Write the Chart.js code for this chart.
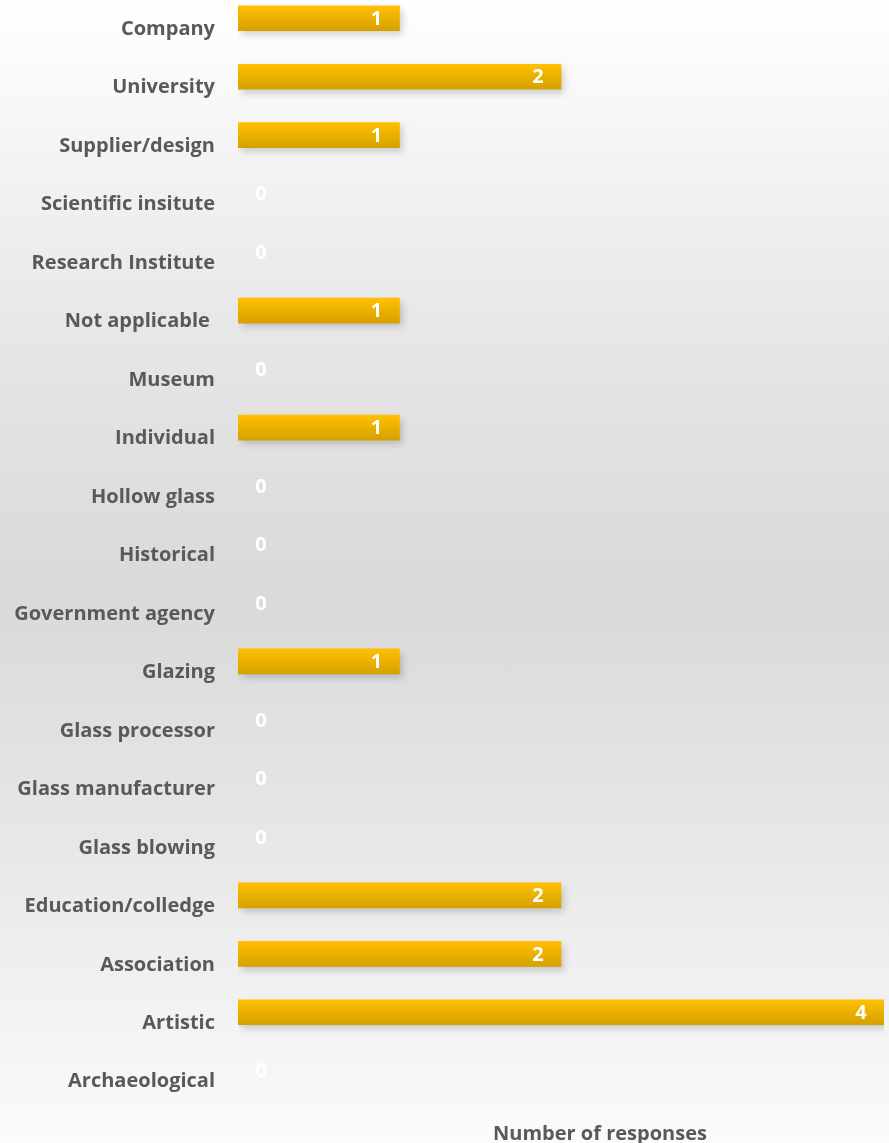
<!DOCTYPE html>
<html>
<head>
<meta charset="utf-8">
<script src="https://cdn.jsdelivr.net/npm/chart.js@4"></script>
<style>
  html, body {
    margin: 0;
    padding: 0;
    width: 889px;
    height: 1143px;
    overflow: hidden;
  }
  body {
    position: relative;
    background: linear-gradient(to bottom, #ffffff 0%, #e6e6e6 30%, #d9d9d9 52%, #e8e8e8 75%, #fbfbfb 100%);
  }
  #wrap {
    position: absolute;
    left: 0;
    top: -11px;
    width: 889px;
    height: 1154px;
  }
</style>
</head>
<body>
<div id="wrap">
  <canvas id="responsesChart" width="889" height="1154"></canvas>
</div>
<script>
// Categories (top to bottom) and number of responses
const categories = [
  "Company", "University", "Supplier/design", "Scientific insitute", "Research Institute",
  "Not applicable ", "Museum", "Individual", "Hollow glass", "Historical",
  "Government agency", "Glazing", "Glass processor", "Glass manufacturer", "Glass blowing",
  "Education/colledge", "Association", "Artistic", "Archaeological"
];
const responses = [1, 2, 1, 0, 0, 1, 0, 1, 0, 0, 0, 1, 0, 0, 0, 2, 2, 4, 0];
const axisMin = 0;
const axisMax = 4;
const axisTitle = "Number of responses";

const FONT = "'Open Sans', sans-serif";
const GREY = '#595959';

// Vertical gold gradient for each bar (nothing drawn for zero bars)
function barGradient(context) {
  const chart = context.chart;
  const yScale = chart.scales.y;
  if (context.raw === 0) return 'rgba(0,0,0,0)';
  if (!yScale || context.dataIndex === undefined) return '#FFC000';
  const yc = yScale.getPixelForValue(context.dataIndex);
  if (!Number.isFinite(yc)) return '#FFC000';
  const g = chart.ctx.createLinearGradient(0, yc - 12.5, 0, yc + 12.5);
  g.addColorStop(0, '#FFC000');
  g.addColorStop(1, '#D6A100');
  return g;
}

// Shadow under the bars + white value labels
const barDecor = {
  id: 'barDecor',
  beforeDatasetsDraw(chart) {
    const ctx = chart.ctx;
    ctx.save();
    ctx.shadowColor = 'rgba(0,0,0,0.18)';
    ctx.shadowBlur = 7;
    ctx.shadowOffsetX = 3;
    ctx.shadowOffsetY = 4;
  },
  afterDatasetsDraw(chart) {
    const ctx = chart.ctx;
    ctx.restore();
    ctx.save();
    ctx.fillStyle = '#ffffff';
    ctx.font = "bold 20px " + FONT;
    ctx.textAlign = 'center';
    ctx.textBaseline = 'middle';
    const meta = chart.getDatasetMeta(0);
    meta.data.forEach((bar, i) => {
      const x = Math.max(bar.x - 23, bar.base + 23);
      ctx.fillText(String(responses[i]), x, bar.y + 1);
    });
    ctx.restore();
  },
  afterDraw(chart) {
    // x axis title, centred the way the original sits
    const ctx = chart.ctx;
    ctx.save();
    ctx.fillStyle = GREY;
    ctx.font = "bold 20px " + FONT;
    ctx.textAlign = 'center';
    ctx.textBaseline = 'middle';
    ctx.fillText(axisTitle, 600, 1145);
    ctx.restore();
  }
};

const ctx = document.getElementById('responsesChart').getContext('2d');
new Chart(ctx, {
  type: 'bar',
  data: {
    labels: categories,
    datasets: [{
      data: responses,
      backgroundColor: barGradient,
      borderWidth: 0,
      barThickness: 25
    }]
  },
  options: {
    indexAxis: 'y',
    responsive: false,
    animation: false,
    layout: { padding: { left: 0, right: 5, top: 0, bottom: 43 } },
    plugins: {
      legend: { display: false },
      tooltip: { enabled: false }
    },
    scales: {
      x: {
        display: false,
        min: axisMin,
        max: axisMax
      },
      y: {
        grid: { display: false, drawTicks: false },
        border: { display: false },
        ticks: {
          color: GREY,
          font: { family: FONT, size: 20, weight: 'bold' },
          padding: 23,
          labelOffset: 11,
          autoSkip: false
        },
        afterFit(scale) {
          scale.width = 238;
          scale.paddingTop = 0;
          scale.paddingBottom = 0;
        }
      }
    }
  },
  plugins: [barDecor]
});
</script>
</body>
</html>
